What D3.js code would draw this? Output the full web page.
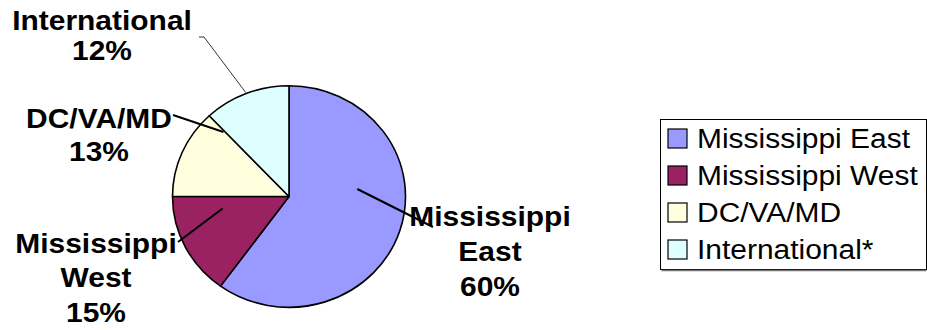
<!DOCTYPE html>
<html>
<head>
<meta charset="utf-8">
<script src="https://cdn.jsdelivr.net/npm/d3@7"></script>
<style>
  html, body { margin: 0; padding: 0; background: #fff; }
  svg { display: block; }
  text { font-family: "Liberation Sans", Arial, Helvetica, sans-serif; }
</style>
</head>
<body>
<svg id="chart" width="927" height="330"></svg>
<script>
// ---- data ----
const categories   = ["Mississippi East", "Mississippi West", "DC/VA/MD", "International"];
const legendLabels = ["Mississippi East", "Mississippi West", "DC/VA/MD", "International*"];
const values       = [60, 15, 13, 12];
const labelLines   = [["Mississippi", "East"], ["Mississippi", "West"], ["DC/VA/MD"], ["International"]];
const colors       = ["#9999FF", "#9B2262", "#FFFFDD", "#DDFFFF"];

// ---- layout ----
const W = 927, H = 330;
const cx = 289, cy = 196.5, rx = 116.5, ry = 110.8;
const textStretch = 1.07;
// label anchor (center x, first baseline, line step) and leader (inner polar pt, outer abs pt)
const labelLayout = [
  { x: 490, y: 226, step: 35, inA: 83.4,  inR: 0.59, out: [433, 227] },
  { x: 96,  y: 253, step: 34.3, inA: 259.3, inR: 0.58, out: [178, 242] },
  { x: 99,  y: 128, step: 33.4, inA: 316,   inR: 0.81, out: [173, 115] },
  { x: 102, y: 30.5, step: 29.8, inA: 338.4, inR: 1.01, out: [204, 37], tick: 199, thin: true }
];

const svg = d3.select("#chart");
const data = categories.map((c, i) => ({ cat: c, value: values[i], color: colors[i], lines: labelLines[i], lay: labelLayout[i] }));

const pie = d3.pie().value(d => d.value).sort(null).startAngle(0).endAngle(2 * Math.PI);
const arcs = pie(data);
const arc = d3.arc().innerRadius(0).outerRadius(rx);

const pieG = svg.append("g").attr("transform", `translate(${cx},${cy}) scale(1,${ry / rx})`);
pieG.selectAll("path").data(arcs).join("path")
  .attr("d", arc)
  .attr("fill", d => d.data.color)
  .attr("stroke", "#000")
  .attr("stroke-width", 1.6)
  .attr("stroke-linejoin", "round")
  .attr("vector-effect", "non-scaling-stroke");

// leader lines
function polar(aDeg, r) {
  const a = aDeg * Math.PI / 180;
  return [cx + rx * r * Math.sin(a), cy - ry * r * Math.cos(a)];
}
data.forEach(d => {
  const L = d.lay;
  const p = polar(L.inA, L.inR);
  const pts = [p, L.out];
  if (L.tick !== undefined) pts.push([L.tick, L.out[1]]);
  svg.append("path")
    .attr("d", d3.line()(pts))
    .attr("fill", "none")
    .attr("stroke", "#000")
    .attr("stroke-width", L.thin ? 0.8 : 2);
});

// data labels
data.forEach((d, i) => {
  const L = d.lay;
  const lines = d.lines.concat([Math.round(d.value / d3.sum(values) * 100) + "%"]);
  const g = svg.append("g").attr("transform", `translate(${L.x},0) scale(${textStretch},1)`);
  lines.forEach((t, k) => {
    g.append("text")
      .attr("x", 0)
      .attr("y", L.y + k * L.step)
      .attr("text-anchor", "middle")
      .attr("font-size", 28)
      .attr("font-weight", "bold")
      .attr("fill", "#000")
      .text(t);
  });
});

// legend
const lg = { x: 660.5, y: 119.5, w: 266, h: 150, row0: 138.5, step: 37, sw: 19 };
svg.append("rect")
  .attr("x", lg.x).attr("y", lg.y).attr("width", lg.w).attr("height", lg.h)
  .attr("fill", "#fff").attr("stroke", "#000").attr("stroke-width", 1);
svg.append("line")
  .attr("x1", lg.x + 1).attr("x2", lg.x + lg.w).attr("y1", lg.y + lg.h + 1).attr("y2", lg.y + lg.h + 1)
  .attr("stroke", "#777").attr("stroke-width", 1.5);
const ly = d3.scaleLinear().domain([0, 1]).range([lg.row0, lg.row0 + lg.step]);
legendLabels.forEach((t, i) => {
  const yc = ly(i);
  svg.append("rect")
    .attr("x", 668).attr("y", yc - lg.sw / 2).attr("width", 19).attr("height", lg.sw)
    .attr("fill", colors[i]).attr("stroke", "#000").attr("stroke-width", 1.2);
  const g = svg.append("g").attr("transform", `translate(697,0) scale(${textStretch},1)`);
  g.append("text")
    .attr("x", 0).attr("y", yc + 10)
    .attr("font-size", 28)
    .attr("fill", "#000")
    .text(t);
});
</script>
</body>
</html>
